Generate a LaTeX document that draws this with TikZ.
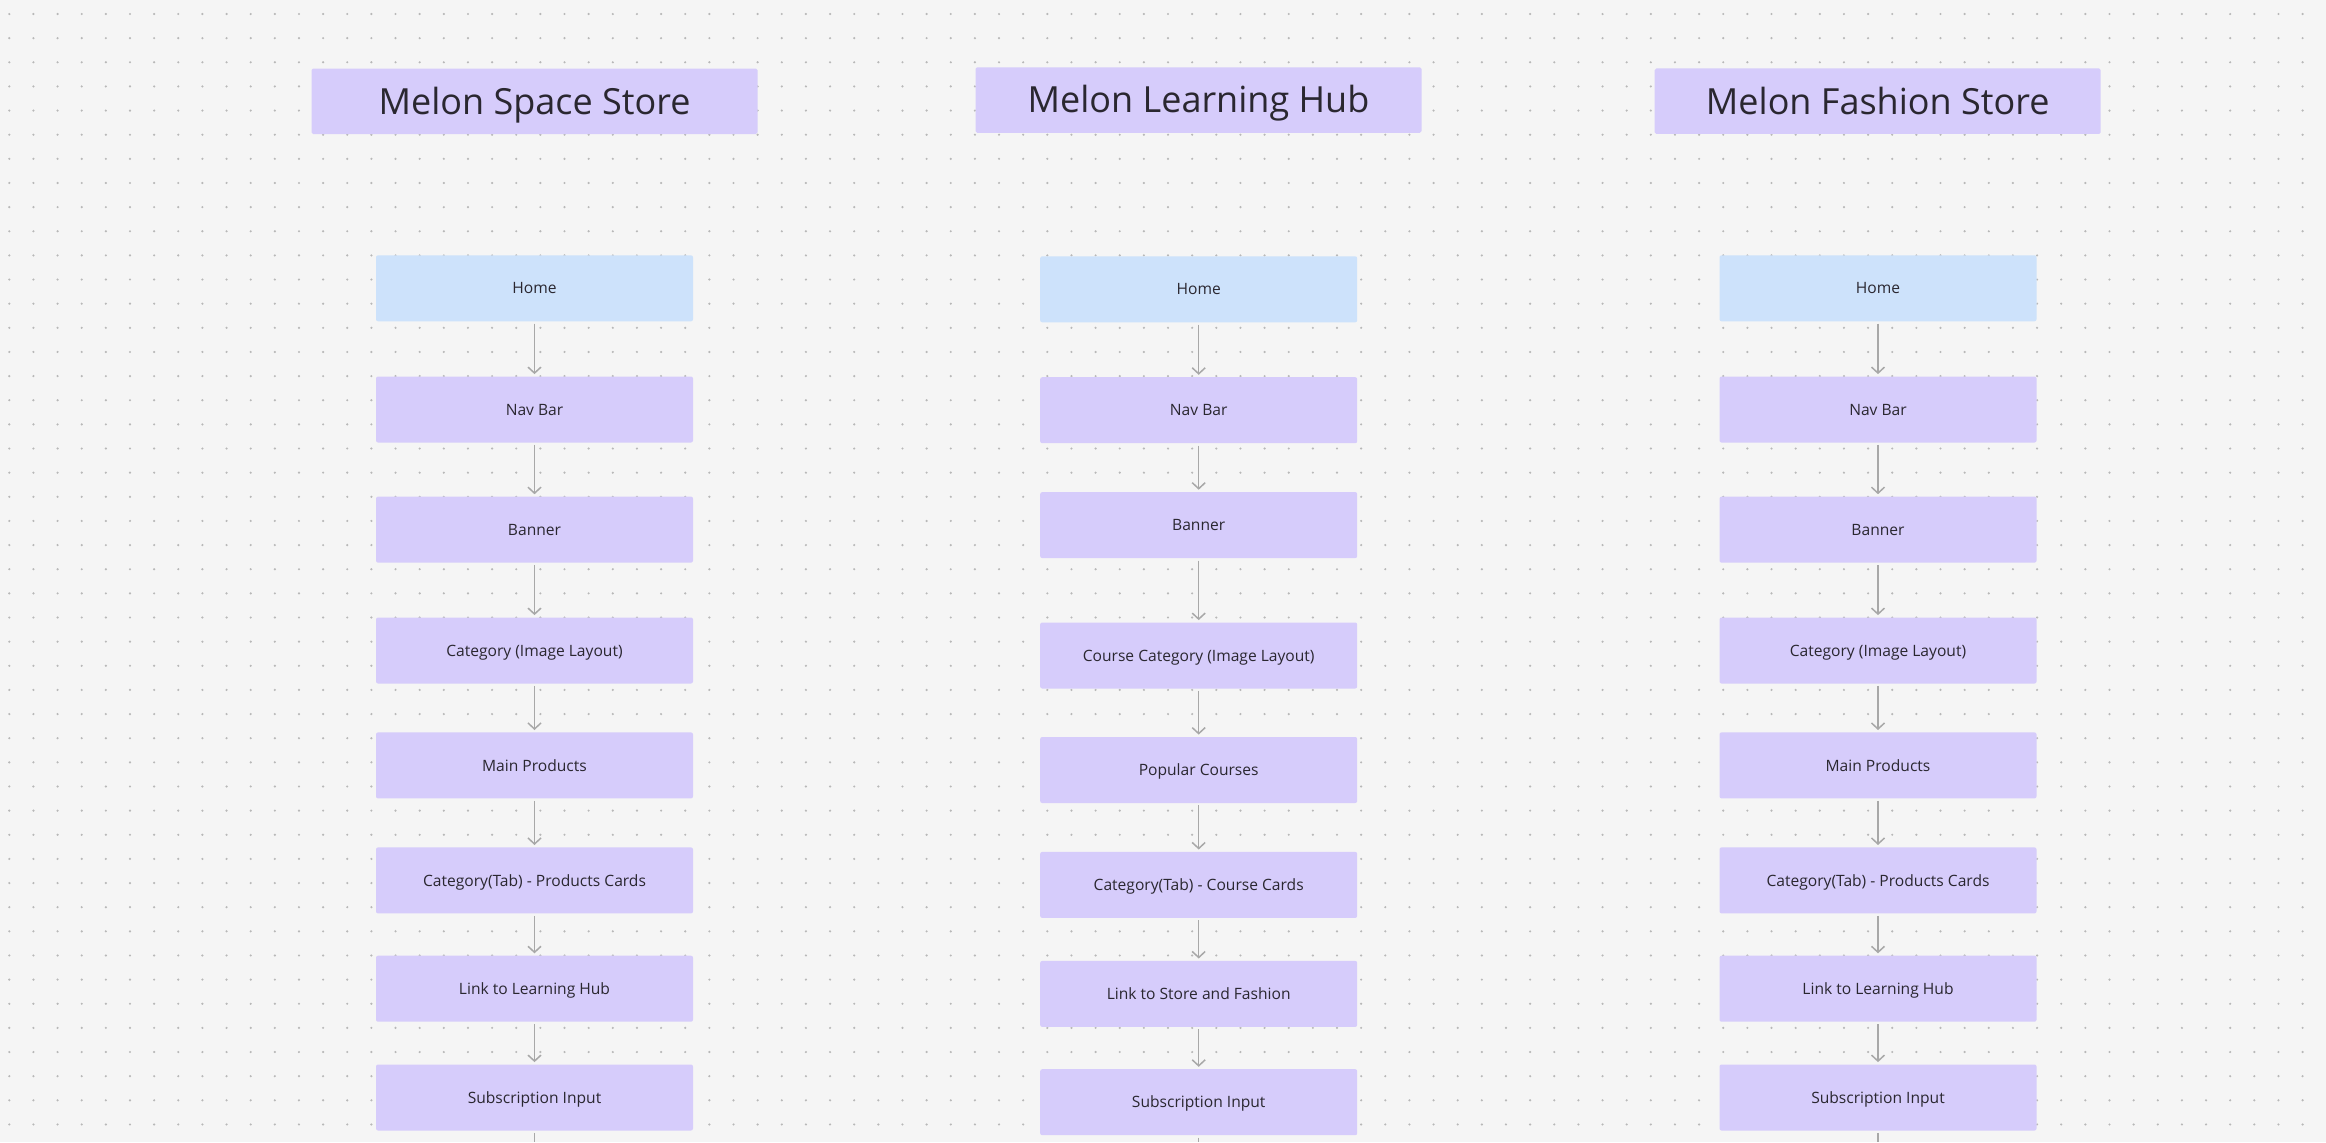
\documentclass[tikz,border=0pt]{standalone}
\usepackage{fontspec}
\setmainfont{Open Sans}
\usetikzlibrary{arrows.meta}
\definecolor{canvas}{HTML}{F5F5F5}
\definecolor{lavender}{HTML}{D6CCFB}
\definecolor{skyblue}{HTML}{CDE2FB}
\definecolor{ink}{HTML}{2A2730}
\definecolor{griddot}{HTML}{B8B8B8}
\definecolor{flowgray}{HTML}{A8A8A8}
\tikzset{
  titlebox/.style={fill=lavender, rounded corners=0.8pt, minimum width=223pt, minimum height=32.75pt, inner sep=0pt, text height=12.85pt, text depth=0pt, text=ink, font=\fontsize{18}{20}\selectfont},
  pagebox/.style={fill=lavender, rounded corners=1pt, minimum width=158.5pt, minimum height=33pt, inner sep=0pt, text height=5.64pt, text depth=0pt, text=ink, font=\fontsize{7.8}{9}\selectfont},
  homebox/.style={pagebox, fill=skyblue},
  flow/.style={draw=flowgray, line width=0.75pt, -{Straight Barb[length=3pt,width=6.5pt]}, shorten <=1pt, shorten >=1pt}
}

\begin{document}
\begin{tikzpicture}[x=0.5pt, y=-0.5pt]
\fill[canvas] (0,0) rectangle (2326,1142);
\useasboundingbox (0,0) rectangle (2326,1142);
\foreach \i in {0,...,95}{\foreach \j in {0,...,46}{\fill[griddot] (9.3+24.14*\i, 14+24.14*\j) circle [radius=0.6pt];}}

\node[titlebox] (tl) at (534.5, 101.3) {Melon Space Store};
\node[titlebox] (tm) at (1198.5, 100) {Melon Learning Hub};
\node[titlebox] (tr) at (1877.7, 101.2) {Melon Fashion Store};

\node[homebox] (l1) at (534.5, 288.3) {Home};
\node[pagebox] (l2) at (534.5, 409.5) {Nav Bar};
\node[pagebox] (l3) at (534.5, 529.6) {Banner};
\node[pagebox] (l4) at (534.5, 650.5) {Category (Image Layout)};
\node[pagebox] (l5) at (534.5, 765.4) {Main Products};
\node[pagebox] (l6) at (534.5, 880.4) {Category(Tab) - Products Cards};
\node[pagebox] (l7) at (534.5, 988.7) {Link to Learning Hub};
\node[pagebox] (l8) at (534.5, 1097.5) {Subscription Input};

\node[homebox] (m1) at (1198.7, 289.3) {Home};
\node[pagebox] (m2) at (1198.7, 410.2) {Nav Bar};
\node[pagebox] (m3) at (1198.7, 525.1) {Banner};
\node[pagebox] (m4) at (1198.7, 655.5) {Course Category (Image Layout)};
\node[pagebox] (m5) at (1198.7, 770) {Popular Courses};
\node[pagebox] (m6) at (1198.7, 884.9) {Category(Tab) - Course Cards};
\node[pagebox] (m7) at (1198.7, 993.9) {Link to Store and Fashion};
\node[pagebox] (m8) at (1198.7, 1102.2) {Subscription Input};

\node[homebox] (r1) at (1878, 288.3) {Home};
\node[pagebox] (r2) at (1878, 409.5) {Nav Bar};
\node[pagebox] (r3) at (1878, 529.6) {Banner};
\node[pagebox] (r4) at (1878, 650.5) {Category (Image Layout)};
\node[pagebox] (r5) at (1878, 765.4) {Main Products};
\node[pagebox] (r6) at (1878, 880.4) {Category(Tab) - Products Cards};
\node[pagebox] (r7) at (1878, 988.7) {Link to Learning Hub};
\node[pagebox] (r8) at (1878, 1097.5) {Subscription Input};

\foreach \c in {l,m,r}{\foreach \a/\b in {1/2,2/3,3/4,4/5,5/6,6/7,7/8}{\draw[flow] (\c\a) -- (\c\b);}}

\coordinate (lend) at (534.5, 1142);
\coordinate (mend) at (1198.7, 1142);
\coordinate (rend) at (1878, 1142);
\draw[flow, -, shorten >=0pt] (l8) -- (lend);
\draw[flow, -, shorten >=0pt] (m8) -- (mend);
\draw[flow, -, shorten >=0pt] (r8) -- (rend);
\end{tikzpicture}
\end{document}
